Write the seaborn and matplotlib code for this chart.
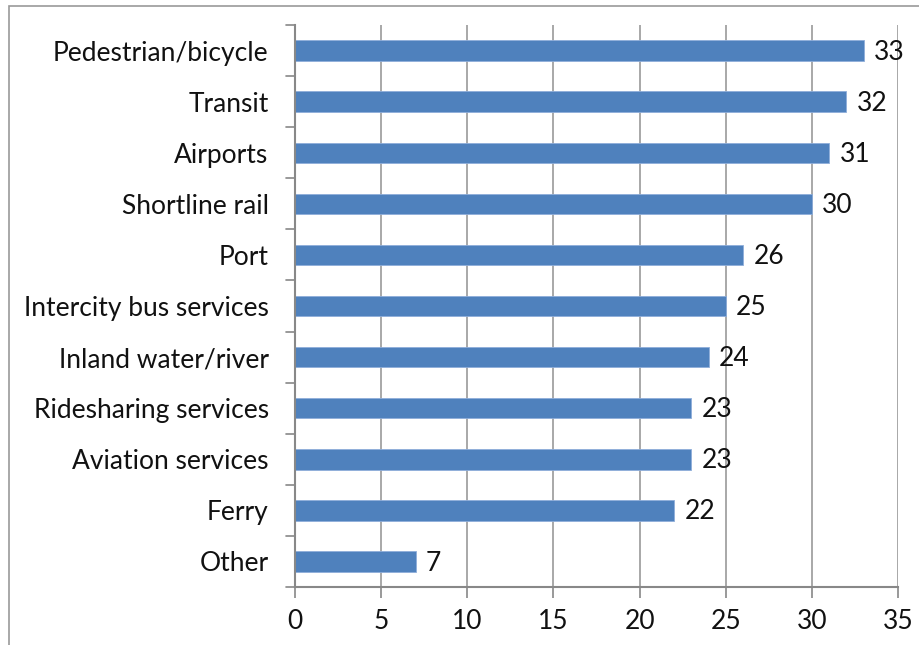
import matplotlib
matplotlib.use("Agg")
import matplotlib.pyplot as plt
from matplotlib.patches import Rectangle
import seaborn as sns
import pandas as pd

categories = ["Pedestrian/bicycle", "Transit", "Airports", "Shortline rail", "Port",
              "Intercity bus services", "Inland water/river", "Ridesharing services",
              "Aviation services", "Ferry", "Other"]
values = [33, 32, 31, 30, 26, 25, 24, 23, 23, 22, 7]
x_ticks = [0, 5, 10, 15, 20, 25, 30, 35]

sns.set_theme(style="white")
plt.rcParams["font.family"] = ["Lato", "DejaVu Sans"]

df = pd.DataFrame({"category": categories, "value": values})

fig = plt.figure(figsize=(9.2, 6.45), dpi=100)
ax = fig.add_axes([0.3207, 0.0899, 0.6554, 0.8713])

sns.barplot(data=df, x="value", y="category", orient="h", color="#4F81BD",
            saturation=1, width=0.4, ax=ax, edgecolor="#8FAEDA", linewidth=0.6,
            zorder=3)

ax.set_xlim(0, 35)
ax.set_ylim(len(categories) - 0.5, -0.5)
ax.set_xticks(x_ticks)
ax.set_xticklabels([str(t) for t in x_ticks], fontsize=19, color="#111111")
ax.set_xlabel("")
ax.set_ylabel("")

# category labels placed between boundary ticks
ax.set_yticks(range(len(categories)))
ax.set_yticklabels(categories, fontsize=19, color="#111111")
ax.tick_params(axis="y", length=0, pad=19)
for b in [i - 0.5 for i in range(len(categories) + 1)]:
    ax.plot([-0.5, 0], [b, b], color="#888888", lw=1.2, clip_on=False, zorder=4)

ax.tick_params(axis="x", length=8, width=1.2, color="#888888", direction="out",
               pad=8, bottom=True)

for t in x_ticks[1:]:
    ax.axvline(t, color="#999999", lw=1.2, zorder=1)

for side in ["top", "right"]:
    ax.spines[side].set_visible(False)
for side in ["left", "bottom"]:
    ax.spines[side].set_color("#888888")
    ax.spines[side].set_linewidth(1.5)
    ax.spines[side].set_zorder(5)

for i, v in enumerate(values):
    ax.text(v + 0.6, i + 0.03, str(v), va="center", ha="left", fontsize=19,
            color="#111111", zorder=6)

# outer chart frame
fig.patches.append(Rectangle((9 / 920, -0.1), 1.2, 1 - 6 / 645 + 0.1,
                             transform=fig.transFigure, fill=False,
                             edgecolor="#999999", lw=1.2))

fig.savefig("out.png", dpi=100)
